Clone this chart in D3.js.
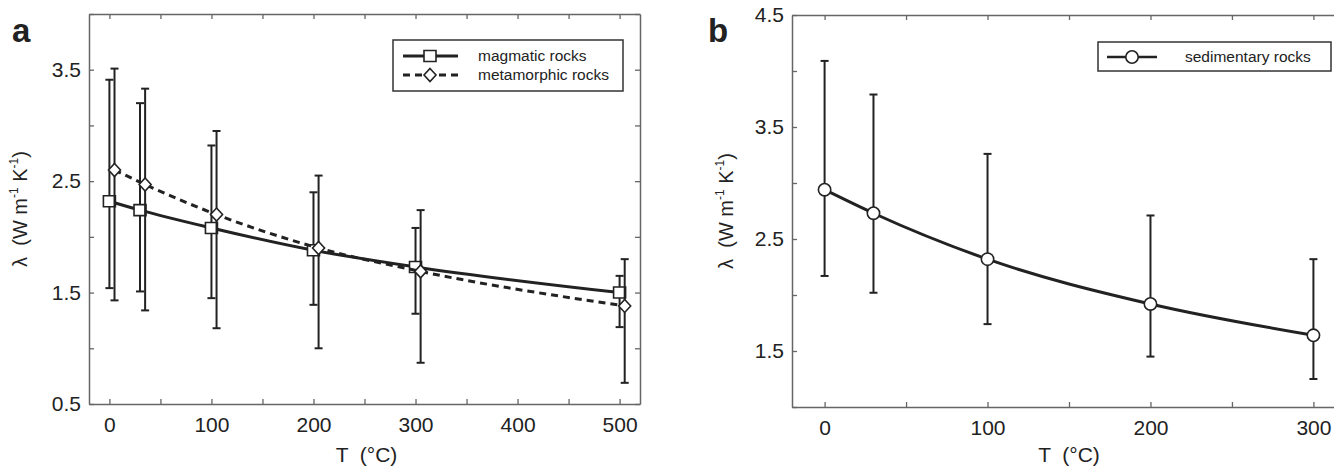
<!DOCTYPE html>
<html>
<head>
<meta charset="utf-8">
<script src="https://cdn.jsdelivr.net/npm/d3@7"></script>
<style>
  body { margin: 0; background: #fff; }
  text { font-family: "Liberation Sans", Arial, sans-serif; fill: #222; }
</style>
</head>
<body>
<div id="chart"></div>
<script>
// panel a: magmatic / metamorphic rocks
const magTemps = [0, 30, 100, 200, 300, 500];
const magMean  = [2.32, 2.24, 2.08, 1.88, 1.73, 1.50];
const magHi    = [3.41, 3.20, 2.82, 2.40, 2.08, 1.65];
const magLo    = [1.54, 1.51, 1.45, 1.39, 1.31, 1.19];

const metTemps = [5, 35, 105, 205, 305, 505];
const metMean  = [2.60, 2.47, 2.20, 1.90, 1.69, 1.38];
const metHi    = [3.51, 3.33, 2.95, 2.55, 2.24, 1.80];
const metLo    = [1.43, 1.34, 1.18, 1.00, 0.87, 0.69];

// panel b: sedimentary rocks
const sedTemps = [0, 30, 100, 200, 300];
const sedMean  = [2.94, 2.73, 2.32, 1.92, 1.64];
const sedHi    = [4.09, 3.79, 3.26, 2.71, 2.32];
const sedLo    = [2.17, 2.02, 1.74, 1.45, 1.25];

const xTicksA = [0, 50, 100, 150, 200, 250, 300, 350, 400, 450, 500];
const yTicksA = [0.5, 1.0, 1.5, 2.0, 2.5, 3.0, 3.5, 4.0];
const xTicksB = [0, 50, 100, 150, 200, 250, 300];
const yTicksB = [1.0, 1.5, 2.0, 2.5, 3.0, 3.5, 4.0, 4.5];

const W = 1334, H = 468;
const ink = "#222", frame = "#666";

const svg = d3.select("#chart").append("svg")
    .attr("width", W).attr("height", H);

function pack(t, m, hi, lo) {
    return t.map(function(d, i) { return { t: d, m: m[i], hi: hi[i], lo: lo[i] }; });
}

function panel(cfg) {
    const x = d3.scaleLinear().domain(cfg.xDomain).range([cfg.left, cfg.right]);
    const y = d3.scaleLinear().domain(cfg.yDomain).range([cfg.bottom, cfg.top]);
    const g = svg.append("g");

    const xFmt = function(d) { return d % 100 === 0 ? d : ""; };
    const yFmt = function(d) { return Math.abs(d * 2) % 2 === 1 ? d.toFixed(1) : ""; };

    // frame + ticks on all four sides, pointing inward
    const ax = g.append("g").attr("transform", "translate(0," + cfg.bottom + ")")
        .call(d3.axisBottom(x).tickValues(cfg.xTicks).tickFormat(xFmt)
            .tickSizeInner(-5).tickSizeOuter(0).tickPadding(13));
    const ay = g.append("g").attr("transform", "translate(" + cfg.left + ",0)")
        .call(d3.axisLeft(y).tickValues(cfg.yTicks).tickFormat(yFmt)
            .tickSizeInner(-5).tickSizeOuter(0).tickPadding(8));
    g.append("g").attr("transform", "translate(0," + cfg.top + ")")
        .call(d3.axisTop(x).tickValues(cfg.xTicks).tickFormat("")
            .tickSizeInner(-5).tickSizeOuter(0));
    g.append("g").attr("transform", "translate(" + cfg.right + ",0)")
        .call(d3.axisRight(y).tickValues(cfg.yTicks).tickFormat("")
            .tickSizeInner(-5).tickSizeOuter(0));
    g.selectAll(".domain").attr("stroke", frame).attr("stroke-width", 1.5);
    g.selectAll(".tick line").attr("stroke", frame).attr("stroke-width", 1.3);
    g.selectAll(".tick text").style("font-size", "21px").attr("fill", "#333");

    // axis titles
    g.append("text")
        .attr("x", (x(cfg.xTicks[0]) + x(cfg.xTicks[cfg.xTicks.length - 1])) / 2 + cfg.xTitleShift)
        .attr("y", 462)
        .attr("text-anchor", "middle")
        .style("font-size", "21px")
        .style("white-space", "pre")
        .text("T  (°C)");

    const yl = g.append("text")
        .attr("transform", "translate(" + cfg.yTitleX + "," + ((cfg.top + cfg.bottom) / 2) + ") rotate(-90)")
        .attr("text-anchor", "middle")
        .style("font-size", "20px")
        .style("white-space", "pre");
    yl.append("tspan").text("λ  (W m");
    yl.append("tspan").attr("dy", -9).style("font-size", "12px").text("-1");
    yl.append("tspan").attr("dy", 9).text(" K");
    yl.append("tspan").attr("dy", -9).style("font-size", "12px").text("-1");
    yl.append("tspan").attr("dy", 9).text(")");

    g.append("text")
        .attr("x", cfg.tagX).attr("y", 42)
        .style("font-size", "33px").style("font-weight", "bold")
        .attr("fill", "#1a1a1a")
        .text(cfg.tag);

    return { g: g, x: x, y: y };
}

function series(p, data, shape, dashed) {
    const line = d3.line()
        .x(function(d) { return p.x(d.t); })
        .y(function(d) { return p.y(d.m); })
        .curve(d3.curveMonotoneX);

    // error bars
    const eb = p.g.append("g").attr("stroke", ink).attr("stroke-width", 2);
    data.forEach(function(d) {
        const cx = p.x(d.t);
        eb.append("line").attr("x1", cx).attr("x2", cx).attr("y1", p.y(d.hi)).attr("y2", p.y(d.lo));
        eb.append("line").attr("x1", cx - 4).attr("x2", cx + 4).attr("y1", p.y(d.hi)).attr("y2", p.y(d.hi));
        eb.append("line").attr("x1", cx - 4).attr("x2", cx + 4).attr("y1", p.y(d.lo)).attr("y2", p.y(d.lo));
    });

    p.g.append("path").datum(data)
        .attr("d", line)
        .attr("fill", "none")
        .attr("stroke", ink)
        .attr("stroke-width", 3)
        .attr("stroke-dasharray", dashed ? "7,5" : null);

    p.g.selectAll(null).data(data).enter().append("path")
        .attr("transform", function(d) { return "translate(" + p.x(d.t) + "," + p.y(d.m) + ")"; })
        .attr("d", shape)
        .attr("fill", "#fff")
        .attr("stroke", ink)
        .attr("stroke-width", 1.6);
}

const square  = "M-6,-5.5H6V5.5H-6Z";
const diamond = "M0,-6.5L6,0L0,6.5L-6,0Z";
const circle  = d3.symbol(d3.symbolCircle, 120)();

function legend(g, x0, y0, w, rows) {
    g.append("rect").attr("x", x0).attr("y", y0).attr("width", w).attr("height", rows.length * 19 + 13)
        .attr("fill", "#fff").attr("stroke", "#333").attr("stroke-width", 1.5);
    rows.forEach(function(r, i) {
        const cy = y0 + 16 + i * 19;
        g.append("line").attr("x1", x0 + 10).attr("x2", x0 + 65).attr("y1", cy).attr("y2", cy)
            .attr("stroke", ink).attr("stroke-width", 3)
            .attr("stroke-dasharray", r.dashed ? "7,5" : null);
        g.append("path").attr("transform", "translate(" + (x0 + 37) + "," + cy + ")")
            .attr("d", r.shape).attr("fill", "#fff").attr("stroke", ink).attr("stroke-width", 1.6);
        g.append("text").attr("x", x0 + 85).attr("y", cy).attr("dy", "0.35em")
            .style("font-size", "15.5px").text(r.label);
    });
}

// panel a
const pa = panel({
    left: 89, right: 640, top: 14, bottom: 404,
    xDomain: [-20, 520], yDomain: [0.5, 4.0],
    xTicks: xTicksA, yTicks: yTicksA,
    yTitleX: 27, tagX: 12, tag: "a", xTitleShift: 2
});
series(pa, pack(magTemps, magMean, magHi, magLo), square, false);
series(pa, pack(metTemps, metMean, metHi, metLo), diamond, true);
legend(pa.g, 393, 40, 230, [
    { label: "magmatic rocks", shape: square, dashed: false },
    { label: "metamorphic rocks", shape: diamond, dashed: true }
]);

// panel b (right edge runs past the picture)
const pb = panel({
    left: 792, right: 1346, top: 15, bottom: 407,
    xDomain: [-20, 320], yDomain: [1.0, 4.5],
    xTicks: xTicksB, yTicks: yTicksB,
    yTitleX: 733, tagX: 708, tag: "b", xTitleShift: 0
});
series(pb, pack(sedTemps, sedMean, sedHi, sedLo), circle, false);
pb.g.append("rect").attr("x", 1098).attr("y", 42).attr("width", 233).attr("height", 29)
    .attr("fill", "#fff").attr("stroke", "#333").attr("stroke-width", 1.5);
pb.g.append("line").attr("x1", 1107).attr("x2", 1157).attr("y1", 57).attr("y2", 57)
    .attr("stroke", ink).attr("stroke-width", 2.5);
pb.g.append("path").attr("transform", "translate(1132,57)").attr("d", circle)
    .attr("fill", "#fff").attr("stroke", ink).attr("stroke-width", 1.6);
pb.g.append("text").attr("x", 1185).attr("y", 57).attr("dy", "0.35em")
    .style("font-size", "15.5px").text("sedimentary rocks");
</script>
</body>
</html>
